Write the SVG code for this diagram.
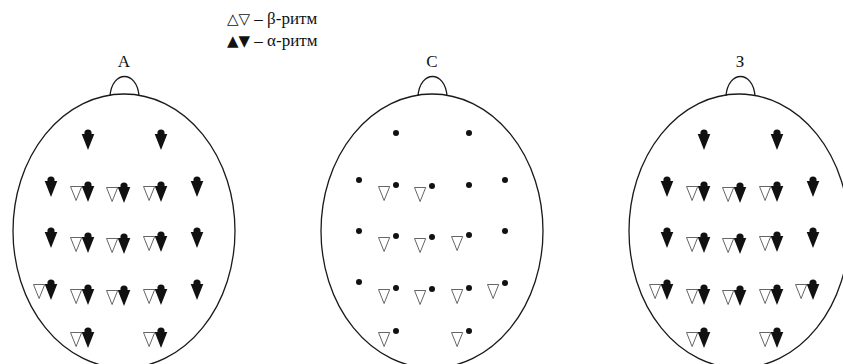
<svg xmlns="http://www.w3.org/2000/svg" xmlns:xlink="http://www.w3.org/1999/xlink" width="843" height="364" viewBox="0 0 843 364">
<style>
.head{fill:none;stroke:#1a1a1a;stroke-width:1.3}
.lbl{font-family:"Liberation Serif","DejaVu Serif",serif;font-size:17px;fill:#111}
.leg{font-family:"Liberation Serif","DejaVu Serif",serif;font-size:17px;fill:#111}
.tri{font-family:"DejaVu Sans",sans-serif;font-size:15px}
.dot{fill:#111}
.al{fill:#111}
.be{fill:none;stroke:#555;stroke-width:0.9}
</style>
<defs>
<circle id="d" class="dot" r="3"/>
<g id="a"><circle class="dot" r="3.6"/><path class="al" d="M-6.3,1 L6.3,1 L0,17 Z"/></g>
<path id="b" class="be" d="M-17.5,1.5 L-6.3,1.5 L-11.9,15.5 Z"/>
</defs>
<rect width="843" height="364" fill="#fff"/>
<g id="legend">
<text class="leg" x="227" y="24"><tspan class="tri">△▽</tspan> – β-ритм</text>
<text class="leg" x="227" y="46"><tspan class="tri">▲▼</tspan> – α-ритм</text>
</g>
<g id="head-A" transform="translate(124,0)">
<text class="lbl" x="0" y="67" text-anchor="middle">A</text>
<path class="head" d="M-14,96 C-12,70 13,70 15,96"/>
<ellipse class="head" cx="0" cy="231" rx="111" ry="137"/>
<use xlink:href="#a" x="-36" y="133"/><use xlink:href="#a" x="37" y="133"/>
<use xlink:href="#a" x="-73" y="180"/>
<use xlink:href="#b" x="-36" y="185"/><use xlink:href="#a" x="-36" y="185"/>
<use xlink:href="#b" x="0" y="186"/><use xlink:href="#a" x="0" y="186"/>
<use xlink:href="#b" x="37" y="185"/><use xlink:href="#a" x="37" y="185"/>
<use xlink:href="#a" x="73" y="180"/>
<use xlink:href="#a" x="-73" y="231"/>
<use xlink:href="#b" x="-36" y="236"/><use xlink:href="#a" x="-36" y="236"/>
<use xlink:href="#b" x="0" y="237"/><use xlink:href="#a" x="0" y="237"/>
<use xlink:href="#b" x="37" y="235"/><use xlink:href="#a" x="37" y="235"/>
<use xlink:href="#a" x="73" y="231"/>
<use xlink:href="#b" x="-73" y="283"/><use xlink:href="#a" x="-73" y="283"/>
<use xlink:href="#b" x="-36" y="288"/><use xlink:href="#a" x="-36" y="288"/>
<use xlink:href="#b" x="0" y="289"/><use xlink:href="#a" x="0" y="289"/>
<use xlink:href="#b" x="37" y="288"/><use xlink:href="#a" x="37" y="288"/>
<use xlink:href="#a" x="73" y="283"/>
<use xlink:href="#b" x="-36" y="331"/><use xlink:href="#a" x="-36" y="331"/>
<use xlink:href="#b" x="37" y="331"/><use xlink:href="#a" x="37" y="331"/>
</g>
<g id="head-C" transform="translate(432,0)">
<text class="lbl" x="0" y="67" text-anchor="middle">C</text>
<path class="head" d="M-14,96 C-12,70 13,70 15,96"/>
<ellipse class="head" cx="0" cy="231" rx="111" ry="137"/>
<use xlink:href="#d" x="-36" y="133"/><use xlink:href="#d" x="37" y="133"/>
<use xlink:href="#d" x="-73" y="180"/>
<use xlink:href="#b" x="-36" y="185"/><use xlink:href="#d" x="-36" y="185"/>
<use xlink:href="#b" x="0" y="186"/><use xlink:href="#d" x="0" y="186"/>
<use xlink:href="#d" x="37" y="185"/>
<use xlink:href="#d" x="73" y="180"/>
<use xlink:href="#d" x="-73" y="231"/>
<use xlink:href="#b" x="-36" y="236"/><use xlink:href="#d" x="-36" y="236"/>
<use xlink:href="#b" x="0" y="237"/><use xlink:href="#d" x="0" y="237"/>
<use xlink:href="#b" x="37" y="235"/><use xlink:href="#d" x="37" y="235"/>
<use xlink:href="#d" x="73" y="231"/>
<use xlink:href="#d" x="-73" y="282"/>
<use xlink:href="#b" x="-36" y="288"/><use xlink:href="#d" x="-36" y="288"/>
<use xlink:href="#b" x="0" y="289"/><use xlink:href="#d" x="0" y="289"/>
<use xlink:href="#b" x="37" y="288"/><use xlink:href="#d" x="37" y="288"/>
<use xlink:href="#b" x="73" y="283"/><use xlink:href="#d" x="73" y="283"/>
<use xlink:href="#b" x="-36" y="331"/><use xlink:href="#d" x="-36" y="331"/>
<use xlink:href="#b" x="37" y="331"/><use xlink:href="#d" x="37" y="331"/>
</g>
<g id="head-Z" transform="translate(740,0)">
<text class="lbl" x="0" y="67" text-anchor="middle">З</text>
<path class="head" d="M-14,96 C-12,70 13,70 15,96"/>
<ellipse class="head" cx="-1" cy="231" rx="110" ry="137"/>
<use xlink:href="#a" x="-36" y="133"/><use xlink:href="#a" x="37" y="133"/>
<use xlink:href="#a" x="-73" y="180"/>
<use xlink:href="#b" x="-36" y="185"/><use xlink:href="#a" x="-36" y="185"/>
<use xlink:href="#b" x="0" y="186"/><use xlink:href="#a" x="0" y="186"/>
<use xlink:href="#b" x="37" y="185"/><use xlink:href="#a" x="37" y="185"/>
<use xlink:href="#a" x="73" y="180"/>
<use xlink:href="#a" x="-73" y="231"/>
<use xlink:href="#b" x="-36" y="236"/><use xlink:href="#a" x="-36" y="236"/>
<use xlink:href="#b" x="0" y="237"/><use xlink:href="#a" x="0" y="237"/>
<use xlink:href="#b" x="37" y="235"/><use xlink:href="#a" x="37" y="235"/>
<use xlink:href="#a" x="73" y="231"/>
<use xlink:href="#b" x="-73" y="283"/><use xlink:href="#a" x="-73" y="283"/>
<use xlink:href="#b" x="-36" y="288"/><use xlink:href="#a" x="-36" y="288"/>
<use xlink:href="#b" x="0" y="289"/><use xlink:href="#a" x="0" y="289"/>
<use xlink:href="#b" x="37" y="288"/><use xlink:href="#a" x="37" y="288"/>
<use xlink:href="#b" x="73" y="283"/><use xlink:href="#a" x="73" y="283"/>
<use xlink:href="#b" x="-36" y="331"/><use xlink:href="#a" x="-36" y="331"/>
<use xlink:href="#b" x="37" y="331"/><use xlink:href="#a" x="37" y="331"/>
</g>
<g id="connectors"/>
</svg>
